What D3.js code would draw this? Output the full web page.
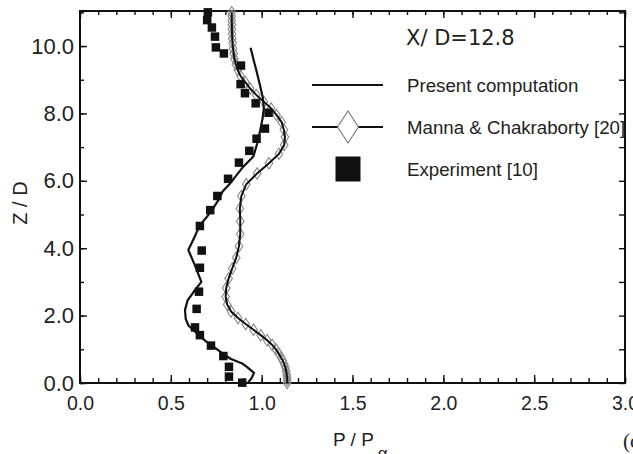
<!DOCTYPE html>
<html>
<head>
<meta charset="utf-8">
<script src="https://cdn.jsdelivr.net/npm/d3@7/dist/d3.min.js"></script>
<style>
  html, body { margin: 0; padding: 0; background: #fff; }
  svg { display: block; }
  text { fill: #222; }
</style>
</head>
<body>
<svg id="chart" width="633" height="454"></svg>
<script>
// Pressure profile P/Pα against height Z/D at X/D = 12.8

// Present computation (solid line)
const presZ = [9.95, 9.6, 9.25, 8.85, 8.45, 8.15, 7.85, 7.5, 7.1, 6.72, 6.42, 6.17, 5.9, 5.68, 5.43, 5.05, 4.65, 4.3, 3.95, 3.5, 3.0, 2.7, 2.45, 2.17, 1.9, 1.7, 1.42, 1.25, 1.08, 0.88, 0.72, 0.58, 0.45, 0.3, 0.15, 0.02];
const presP = [0.939, 0.955, 0.972, 0.99, 1.007, 1.012, 1.005, 0.992, 0.975, 0.954, 0.899, 0.862, 0.822, 0.785, 0.762, 0.716, 0.656, 0.628, 0.596, 0.632, 0.668, 0.625, 0.592, 0.578, 0.582, 0.598, 0.655, 0.69, 0.734, 0.785, 0.828, 0.893, 0.925, 0.958, 0.945, 0.926];

// Manna & Chakraborty [20] (line with diamonds)
const mannaZ = [0.0, 0.08, 0.16, 0.25, 0.35, 0.45, 0.55, 0.65, 0.76, 0.88, 1.0, 1.13, 1.27, 1.42, 1.58, 1.75, 1.93, 2.12, 2.33, 2.56, 2.82, 3.10, 3.40, 3.72, 4.06, 4.42, 4.80, 5.18, 5.55, 5.90, 6.22, 6.52, 6.80, 7.06, 7.30, 7.52, 7.74, 7.95, 8.15, 8.35, 8.55, 8.74, 8.93, 9.11, 9.29, 9.46, 9.62, 9.78, 9.93, 10.08, 10.22, 10.36, 10.50, 10.63, 10.76, 10.89, 11.0];
const mannaP = [1.140, 1.141, 1.140, 1.138, 1.135, 1.131, 1.125, 1.117, 1.107, 1.093, 1.078, 1.058, 1.030, 0.995, 0.955, 0.912, 0.870, 0.832, 0.810, 0.802, 0.805, 0.818, 0.838, 0.860, 0.875, 0.882, 0.882, 0.880, 0.888, 0.915, 0.975, 1.040, 1.095, 1.124, 1.128, 1.122, 1.110, 1.082, 1.052, 1.012, 0.970, 0.937, 0.910, 0.884, 0.868, 0.858, 0.850, 0.846, 0.842, 0.840, 0.838, 0.837, 0.836, 0.836, 0.835, 0.835, 0.835];

// Experiment [10] (filled squares)
const expZ = [11.0, 10.77, 10.55, 10.28, 9.96, 9.78, 9.42, 8.87, 8.60, 8.30, 8.02, 7.55, 7.25, 6.89, 6.54, 6.06, 5.55, 5.13, 4.66, 3.93, 3.42, 2.71, 2.20, 1.65, 1.42, 1.11, 0.80, 0.48, 0.19, 0.01];
const expP = [0.704, 0.70, 0.726, 0.743, 0.748, 0.792, 0.886, 0.884, 0.908, 0.967, 1.038, 1.018, 0.972, 0.932, 0.875, 0.815, 0.756, 0.717, 0.66, 0.67, 0.66, 0.655, 0.642, 0.633, 0.66, 0.721, 0.789, 0.82, 0.82, 0.893];

// Axis ticks
const xMajor = [0, 0.5, 1.0, 1.5, 2.0, 2.5, 3.0];
const xMinor = d3.range(0, 30.5, 1).map(d => d / 10);
const yMajor = [0, 2, 4, 6, 8, 10];
const yMinor = d3.range(0, 12, 1);

const legendItems = ["Present computation", "Manna & Chakraborty [20]", "Experiment [10]"];
const caseLabel = "X/ D=12.8";

const svg = d3.select("#chart");
const plotL = 80, plotR = 625, plotT = 11, plotB = 383;

const x = d3.scaleLinear().domain([0, 3]).range([plotL, plotR]);
const y = d3.scaleLinear().domain([0, 11.04]).range([plotB, plotT]);

const fmt = d3.format(".1f");

// Bottom axis: inward major + minor ticks, labels below
const gx = svg.append("g").attr("transform", `translate(0,${plotB})`);
gx.call(d3.axisBottom(x).tickValues(xMajor).tickFormat(fmt).tickSizeInner(-8).tickSizeOuter(0).tickPadding(13));
gx.append("g").call(d3.axisBottom(x).tickValues(xMinor).tickFormat("").tickSizeInner(-5).tickSizeOuter(0));

// Top axis ticks pointing down
const gxt = svg.append("g").attr("transform", `translate(0,${plotT})`);
gxt.call(d3.axisTop(x).tickValues(xMajor).tickFormat("").tickSizeInner(-7).tickSizeOuter(0));
gxt.append("g").call(d3.axisTop(x).tickValues(xMinor).tickFormat("").tickSizeInner(-4).tickSizeOuter(0));

// Left axis
const gy = svg.append("g").attr("transform", `translate(${plotL},0)`);
gy.call(d3.axisLeft(y).tickValues(yMajor).tickFormat(fmt).tickSizeInner(-7).tickSizeOuter(0).tickPadding(6));
gy.append("g").call(d3.axisLeft(y).tickValues(yMinor).tickFormat("").tickSizeInner(-4).tickSizeOuter(0));

// Right axis ticks pointing left
const gyr = svg.append("g").attr("transform", `translate(${plotR},0)`);
gyr.call(d3.axisRight(y).tickValues(yMinor).tickFormat("").tickSizeInner(-6).tickSizeOuter(0));

svg.selectAll(".domain").remove();
svg.selectAll(".tick line").attr("stroke", "#111").attr("stroke-width", 1.4);
gx.selectAll("text").attr("font-family", "Liberation Sans, Arial, sans-serif").attr("font-size", 19.5).attr("fill", "#333");
gy.selectAll("text").attr("font-family", "Liberation Sans, Arial, sans-serif").attr("font-size", 22).attr("fill", "#333");

// Frame
svg.append("rect")
  .attr("x", plotL).attr("y", plotT)
  .attr("width", plotR - plotL).attr("height", plotB - plotT)
  .attr("fill", "none").attr("stroke", "#111").attr("stroke-width", 2);

const line = d3.line().x(d => x(d[0])).y(d => y(d[1]));

// Manna & Chakraborty: diamonds then the line
const manna = mannaP.map((p, i) => [p, mannaZ[i]]);
const diamond = d3.symbol().type(d3.symbolDiamond).size(38);
svg.append("g").selectAll("path").data(manna).join("path")
  .attr("d", diamond)
  .attr("transform", d => `translate(${x(d[0])},${y(d[1])}) scale(1.15,1)`)
  .attr("fill", "none").attr("stroke", "#8a8a8a").attr("stroke-width", 1);
svg.append("path").datum(manna)
  .attr("d", line).attr("fill", "none").attr("stroke", "#111").attr("stroke-width", 2);

// Present computation
const pres = presP.map((p, i) => [p, presZ[i]]);
svg.append("path").datum(pres)
  .attr("d", line).attr("fill", "none").attr("stroke", "#111").attr("stroke-width", 2.2)
  .attr("stroke-linejoin", "round");

// Experiment squares
const sq = 8.5;
svg.append("g").selectAll("rect").data(expP.map((p, i) => [p, expZ[i]])).join("rect")
  .attr("x", d => x(d[0]) - sq / 2).attr("y", d => y(d[1]) - sq / 2)
  .attr("width", sq).attr("height", sq).attr("fill", "#111");

// Case label and legend
svg.append("text").attr("x", 406).attr("y", 45)
  .attr("font-family", "DejaVu Sans, sans-serif").attr("font-size", 21)
  .text(caseLabel);

const legX = 407, legY = [85, 127, 169];
svg.append("line").attr("x1", 312).attr("x2", 383).attr("y1", legY[0]).attr("y2", legY[0])
  .attr("stroke", "#111").attr("stroke-width", 2);
svg.append("line").attr("x1", 312).attr("x2", 383).attr("y1", legY[1]).attr("y2", legY[1])
  .attr("stroke", "#111").attr("stroke-width", 2);
svg.append("path")
  .attr("d", d3.symbol().type(d3.symbolDiamond).size(300)())
  .attr("transform", `translate(348,${legY[1]}) scale(1.12,1)`)
  .attr("fill", "#fff").attr("stroke", "#777").attr("stroke-width", 1);
svg.append("rect").attr("x", 348 - 12.5).attr("y", legY[2] - 12.5)
  .attr("width", 25).attr("height", 25).attr("fill", "#111");

svg.append("g").selectAll("text").data(legendItems).join("text")
  .attr("x", legX).attr("y", (d, i) => legY[i] + 7)
  .attr("font-family", "Liberation Sans, Arial, sans-serif").attr("font-size", 18.7)
  .text(d => d);

// Axis titles
svg.append("text")
  .attr("transform", "translate(27,203) rotate(-90)")
  .attr("text-anchor", "middle")
  .attr("font-family", "Liberation Sans, Arial, sans-serif").attr("font-size", 20)
  .attr("fill", "#333")
  .text("Z / D");

const xt = svg.append("text").attr("x", 333).attr("y", 446)
  .attr("font-family", "Liberation Sans, Arial, sans-serif").attr("font-size", 19)
  .attr("fill", "#333");
xt.append("tspan").text("P / P");
xt.append("tspan").attr("dx", 4).attr("dy", 13).attr("font-size", 17).text("α");

svg.append("text").attr("x", 623).attr("y", 448)
  .attr("font-family", "Liberation Serif, Times New Roman, serif").attr("font-size", 21)
  .text("(c)");
</script>
</body>
</html>
